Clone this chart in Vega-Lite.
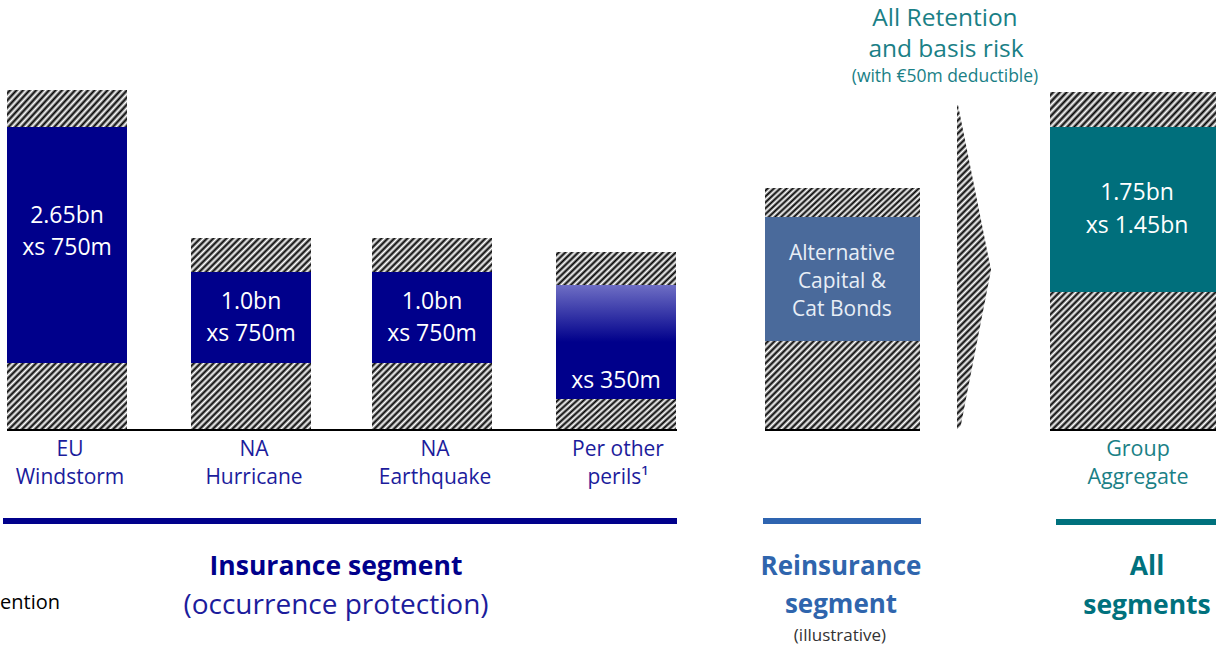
{
"$schema":"https://vega.github.io/schema/vega-lite/v6.json",
"width":1216,"height":646,"padding":0,
"autosize":"none",
"background":"#ffffff",
"config":{"view":{"stroke":null},"text":{"font":"Open Sans"}},
"datasets":{
"hatch":[
{"x0":7,"x1":127,"lo":303,"hi":340,"g":"g1"},
{"x0":191,"x1":311,"lo":158,"hi":192,"g":"g1"},
{"x0":372,"x1":492,"lo":158,"hi":192,"g":"g1"},
{"x0":556,"x1":676,"lo":145,"hi":178,"g":"g1"},
{"x0":556,"x1":676,"lo":0,"hi":31,"g":"g1"},
{"x0":7,"x1":127,"lo":0,"hi":67,"g":"g2"},
{"x0":191,"x1":311,"lo":0,"hi":67,"g":"g2"},
{"x0":372,"x1":492,"lo":0,"hi":67,"g":"g2"},
{"x0":765,"x1":920,"lo":213,"hi":242,"g":"g3"},
{"x0":1050,"x1":1216,"lo":303,"hi":338,"g":"g3"},
{"x0":765,"x1":920,"lo":0,"hi":89,"g":"g4"},
{"x0":1050,"x1":1216,"lo":0,"hi":138,"g":"g5"}
],
"blocks":[
{"name":"EU Windstorm","seg":"ins","x0":7,"x1":127,"lo":67,"hi":303},
{"name":"NA Hurricane","seg":"ins","x0":191,"x1":311,"lo":67,"hi":158},
{"name":"NA Earthquake","seg":"ins","x0":372,"x1":492,"lo":67,"hi":158},
{"name":"Per other perils","seg":"other","x0":556,"x1":676,"lo":31,"hi":145},
{"name":"Alternative Capital & Cat Bonds","seg":"reins","x0":765,"x1":920,"lo":89,"hi":213},
{"name":"Group Aggregate","seg":"group","x0":1050,"x1":1216,"lo":138,"hi":303}
],
"arrow":[{"v":325,"a":957,"b":958},{"v":160,"a":957,"b":991},{"v":-10,"a":957,"b":958}],
"lines":[
{"kind":"base","x0":7,"x1":677,"v":0},
{"kind":"base","x0":765,"x1":920,"v":0},
{"kind":"base","x0":1050,"x1":1216,"v":0},
{"kind":"Insurance line","x0":3,"x1":677,"v":-91},
{"kind":"Reinsurance line","x0":763,"x1":921,"v":-91},
{"kind":"All segments line","x0":1056,"x1":1216,"v":-92}
],
"texts":[
{"role":"barlab","x":67,"v":214,"t":"2.65bn"},
{"role":"barlab","x":67,"v":182,"t":"xs 750m"},
{"role":"barlab","x":251,"v":128,"t":"1.0bn"},
{"role":"barlab","x":251,"v":96,"t":"xs 750m"},
{"role":"barlab","x":432,"v":128,"t":"1.0bn"},
{"role":"barlab","x":432,"v":96,"t":"xs 750m"},
{"role":"barlab","x":616,"v":49,"t":"xs 350m"},
{"role":"barlab","x":1137,"v":237,"t":"1.75bn"},
{"role":"barlab","x":1137,"v":204,"t":"xs 1.45bn"},
{"role":"reinslab","x":842,"v":176,"t":"Alternative"},
{"role":"reinslab","x":842,"v":148,"t":"Capital &"},
{"role":"reinslab","x":842,"v":120,"t":"Cat Bonds"},
{"role":"cat","x":70,"v":-20,"t":"EU"},
{"role":"cat","x":70,"v":-48,"t":"Windstorm"},
{"role":"cat","x":254,"v":-20,"t":"NA"},
{"role":"cat","x":254,"v":-48,"t":"Hurricane"},
{"role":"cat","x":435,"v":-20,"t":"NA"},
{"role":"cat","x":435,"v":-48,"t":"Earthquake"},
{"role":"cat","x":618,"v":-20,"t":"Per other"},
{"role":"cat","x":618,"v":-48,"t":"perils¹"},
{"role":"catg","x":1138,"v":-20,"t":"Group"},
{"role":"catg","x":1138,"v":-48,"t":"Aggregate"},
{"role":"segIns","x":336,"v":-137,"t":"Insurance segment"},
{"role":"segInsSub","x":336,"v":-176,"t":"(occurrence protection)"},
{"role":"segRe","x":841,"v":-137,"t":"Reinsurance"},
{"role":"segRe","x":841,"v":-175,"t":"segment"},
{"role":"illus","x":840,"v":-206,"t":"(illustrative)"},
{"role":"segAll","x":1147,"v":-137,"t":"All"},
{"role":"segAll","x":1147,"v":-176,"t":"segments"},
{"role":"leg","x":0,"v":-173,"t":"ention"},
{"role":"top","x":945,"v":411,"t":"All Retention"},
{"role":"top","x":946,"v":380,"t":"and basis risk"},
{"role":"topsub","x":945,"v":353,"t":"(with  €50m deductible)"}
]
},
"layer":[
{"data":{"name":"hatch"},"transform":[{"filter":"datum.g == 'g1'"}],
"mark":{"type":"rect","fill":{"gradient":"linear","x1":0,"y1":0,"x2":2.507,"y2":0.710,"stops":[{"offset":0,"color":"#fff"},{"offset":0.01,"color":"#000"},{"offset":0.02,"color":"#fff"},{"offset":0.03,"color":"#000"},{"offset":0.04,"color":"#fff"},{"offset":0.05,"color":"#000"},{"offset":0.06,"color":"#fff"},{"offset":0.07,"color":"#000"},{"offset":0.08,"color":"#fff"},{"offset":0.09,"color":"#000"},{"offset":0.1,"color":"#fff"},{"offset":0.11,"color":"#000"},{"offset":0.12,"color":"#fff"},{"offset":0.13,"color":"#000"},{"offset":0.14,"color":"#fff"},{"offset":0.15,"color":"#000"},{"offset":0.16,"color":"#fff"},{"offset":0.17,"color":"#000"},{"offset":0.18,"color":"#fff"},{"offset":0.19,"color":"#000"},{"offset":0.2,"color":"#fff"},{"offset":0.21,"color":"#000"},{"offset":0.22,"color":"#fff"},{"offset":0.23,"color":"#000"},{"offset":0.24,"color":"#fff"},{"offset":0.25,"color":"#000"},{"offset":0.26,"color":"#fff"},{"offset":0.27,"color":"#000"},{"offset":0.28,"color":"#fff"},{"offset":0.29,"color":"#000"},{"offset":0.3,"color":"#fff"},{"offset":0.31,"color":"#000"},{"offset":0.32,"color":"#fff"},{"offset":0.33,"color":"#000"},{"offset":0.34,"color":"#fff"},{"offset":0.35,"color":"#000"},{"offset":0.36,"color":"#fff"},{"offset":0.37,"color":"#000"},{"offset":0.38,"color":"#fff"},{"offset":0.39,"color":"#000"},{"offset":0.4,"color":"#fff"},{"offset":0.41,"color":"#000"},{"offset":0.42,"color":"#fff"},{"offset":0.43,"color":"#000"},{"offset":0.44,"color":"#fff"},{"offset":0.45,"color":"#000"},{"offset":0.46,"color":"#fff"},{"offset":0.47,"color":"#000"},{"offset":0.48,"color":"#fff"},{"offset":0.49,"color":"#000"},{"offset":0.5,"color":"#fff"},{"offset":0.51,"color":"#000"},{"offset":0.52,"color":"#fff"},{"offset":0.53,"color":"#000"},{"offset":0.54,"color":"#fff"},{"offset":0.55,"color":"#000"},{"offset":0.56,"color":"#fff"},{"offset":0.57,"color":"#000"},{"offset":0.58,"color":"#fff"},{"offset":0.59,"color":"#000"},{"offset":0.6,"color":"#fff"},{"offset":0.61,"color":"#000"},{"offset":0.62,"color":"#fff"},{"offset":0.63,"color":"#000"},{"offset":0.64,"color":"#fff"},{"offset":0.65,"color":"#000"},{"offset":0.66,"color":"#fff"},{"offset":0.67,"color":"#000"},{"offset":0.68,"color":"#fff"},{"offset":0.69,"color":"#000"},{"offset":0.7,"color":"#fff"},{"offset":0.71,"color":"#000"},{"offset":0.72,"color":"#fff"},{"offset":0.73,"color":"#000"},{"offset":0.74,"color":"#fff"},{"offset":0.75,"color":"#000"},{"offset":0.76,"color":"#fff"},{"offset":0.77,"color":"#000"},{"offset":0.78,"color":"#fff"},{"offset":0.79,"color":"#000"},{"offset":0.8,"color":"#fff"},{"offset":0.81,"color":"#000"},{"offset":0.82,"color":"#fff"},{"offset":0.83,"color":"#000"},{"offset":0.84,"color":"#fff"},{"offset":0.85,"color":"#000"},{"offset":0.86,"color":"#fff"},{"offset":0.87,"color":"#000"},{"offset":0.88,"color":"#fff"},{"offset":0.89,"color":"#000"},{"offset":0.9,"color":"#fff"},{"offset":0.91,"color":"#000"},{"offset":0.92,"color":"#fff"},{"offset":0.93,"color":"#000"},{"offset":0.94,"color":"#fff"},{"offset":0.95,"color":"#000"},{"offset":0.96,"color":"#fff"},{"offset":0.97,"color":"#000"},{"offset":0.98,"color":"#fff"},{"offset":0.99,"color":"#000"},{"offset":1,"color":"#fff"}]}},
"encoding":{"x":{"field":"x0","type":"quantitative","scale":{"domain":[0,1216],"nice":false,"zero":false},"axis":null},"x2":{"field":"x1"},"y":{"field":"lo","type":"quantitative","scale":{"domain":[-216,430],"nice":false,"zero":false},"axis":null},"y2":{"field":"hi"}}},
{"data":{"name":"hatch"},"transform":[{"filter":"datum.g == 'g2'"}],
"mark":{"type":"rect","fill":{"gradient":"linear","x1":0,"y1":0,"x2":2.065,"y2":1.153,"stops":[{"offset":0,"color":"#fff"},{"offset":0.01,"color":"#000"},{"offset":0.02,"color":"#fff"},{"offset":0.03,"color":"#000"},{"offset":0.04,"color":"#fff"},{"offset":0.05,"color":"#000"},{"offset":0.06,"color":"#fff"},{"offset":0.07,"color":"#000"},{"offset":0.08,"color":"#fff"},{"offset":0.09,"color":"#000"},{"offset":0.1,"color":"#fff"},{"offset":0.11,"color":"#000"},{"offset":0.12,"color":"#fff"},{"offset":0.13,"color":"#000"},{"offset":0.14,"color":"#fff"},{"offset":0.15,"color":"#000"},{"offset":0.16,"color":"#fff"},{"offset":0.17,"color":"#000"},{"offset":0.18,"color":"#fff"},{"offset":0.19,"color":"#000"},{"offset":0.2,"color":"#fff"},{"offset":0.21,"color":"#000"},{"offset":0.22,"color":"#fff"},{"offset":0.23,"color":"#000"},{"offset":0.24,"color":"#fff"},{"offset":0.25,"color":"#000"},{"offset":0.26,"color":"#fff"},{"offset":0.27,"color":"#000"},{"offset":0.28,"color":"#fff"},{"offset":0.29,"color":"#000"},{"offset":0.3,"color":"#fff"},{"offset":0.31,"color":"#000"},{"offset":0.32,"color":"#fff"},{"offset":0.33,"color":"#000"},{"offset":0.34,"color":"#fff"},{"offset":0.35,"color":"#000"},{"offset":0.36,"color":"#fff"},{"offset":0.37,"color":"#000"},{"offset":0.38,"color":"#fff"},{"offset":0.39,"color":"#000"},{"offset":0.4,"color":"#fff"},{"offset":0.41,"color":"#000"},{"offset":0.42,"color":"#fff"},{"offset":0.43,"color":"#000"},{"offset":0.44,"color":"#fff"},{"offset":0.45,"color":"#000"},{"offset":0.46,"color":"#fff"},{"offset":0.47,"color":"#000"},{"offset":0.48,"color":"#fff"},{"offset":0.49,"color":"#000"},{"offset":0.5,"color":"#fff"},{"offset":0.51,"color":"#000"},{"offset":0.52,"color":"#fff"},{"offset":0.53,"color":"#000"},{"offset":0.54,"color":"#fff"},{"offset":0.55,"color":"#000"},{"offset":0.56,"color":"#fff"},{"offset":0.57,"color":"#000"},{"offset":0.58,"color":"#fff"},{"offset":0.59,"color":"#000"},{"offset":0.6,"color":"#fff"},{"offset":0.61,"color":"#000"},{"offset":0.62,"color":"#fff"},{"offset":0.63,"color":"#000"},{"offset":0.64,"color":"#fff"},{"offset":0.65,"color":"#000"},{"offset":0.66,"color":"#fff"},{"offset":0.67,"color":"#000"},{"offset":0.68,"color":"#fff"},{"offset":0.69,"color":"#000"},{"offset":0.7,"color":"#fff"},{"offset":0.71,"color":"#000"},{"offset":0.72,"color":"#fff"},{"offset":0.73,"color":"#000"},{"offset":0.74,"color":"#fff"},{"offset":0.75,"color":"#000"},{"offset":0.76,"color":"#fff"},{"offset":0.77,"color":"#000"},{"offset":0.78,"color":"#fff"},{"offset":0.79,"color":"#000"},{"offset":0.8,"color":"#fff"},{"offset":0.81,"color":"#000"},{"offset":0.82,"color":"#fff"},{"offset":0.83,"color":"#000"},{"offset":0.84,"color":"#fff"},{"offset":0.85,"color":"#000"},{"offset":0.86,"color":"#fff"},{"offset":0.87,"color":"#000"},{"offset":0.88,"color":"#fff"},{"offset":0.89,"color":"#000"},{"offset":0.9,"color":"#fff"},{"offset":0.91,"color":"#000"},{"offset":0.92,"color":"#fff"},{"offset":0.93,"color":"#000"},{"offset":0.94,"color":"#fff"},{"offset":0.95,"color":"#000"},{"offset":0.96,"color":"#fff"},{"offset":0.97,"color":"#000"},{"offset":0.98,"color":"#fff"},{"offset":0.99,"color":"#000"},{"offset":1,"color":"#fff"}]}},
"encoding":{"x":{"field":"x0","type":"quantitative","scale":{"domain":[0,1216],"nice":false,"zero":false},"axis":null},"x2":{"field":"x1"},"y":{"field":"lo","type":"quantitative","scale":{"domain":[-216,430],"nice":false,"zero":false},"axis":null},"y2":{"field":"hi"}}},
{"data":{"name":"hatch"},"transform":[{"filter":"datum.g == 'g3'"}],
"mark":{"type":"rect","fill":{"gradient":"linear","x1":0,"y1":0,"x2":1.953,"y2":0.391,"stops":[{"offset":0,"color":"#fff"},{"offset":0.01,"color":"#000"},{"offset":0.02,"color":"#fff"},{"offset":0.03,"color":"#000"},{"offset":0.04,"color":"#fff"},{"offset":0.05,"color":"#000"},{"offset":0.06,"color":"#fff"},{"offset":0.07,"color":"#000"},{"offset":0.08,"color":"#fff"},{"offset":0.09,"color":"#000"},{"offset":0.1,"color":"#fff"},{"offset":0.11,"color":"#000"},{"offset":0.12,"color":"#fff"},{"offset":0.13,"color":"#000"},{"offset":0.14,"color":"#fff"},{"offset":0.15,"color":"#000"},{"offset":0.16,"color":"#fff"},{"offset":0.17,"color":"#000"},{"offset":0.18,"color":"#fff"},{"offset":0.19,"color":"#000"},{"offset":0.2,"color":"#fff"},{"offset":0.21,"color":"#000"},{"offset":0.22,"color":"#fff"},{"offset":0.23,"color":"#000"},{"offset":0.24,"color":"#fff"},{"offset":0.25,"color":"#000"},{"offset":0.26,"color":"#fff"},{"offset":0.27,"color":"#000"},{"offset":0.28,"color":"#fff"},{"offset":0.29,"color":"#000"},{"offset":0.3,"color":"#fff"},{"offset":0.31,"color":"#000"},{"offset":0.32,"color":"#fff"},{"offset":0.33,"color":"#000"},{"offset":0.34,"color":"#fff"},{"offset":0.35,"color":"#000"},{"offset":0.36,"color":"#fff"},{"offset":0.37,"color":"#000"},{"offset":0.38,"color":"#fff"},{"offset":0.39,"color":"#000"},{"offset":0.4,"color":"#fff"},{"offset":0.41,"color":"#000"},{"offset":0.42,"color":"#fff"},{"offset":0.43,"color":"#000"},{"offset":0.44,"color":"#fff"},{"offset":0.45,"color":"#000"},{"offset":0.46,"color":"#fff"},{"offset":0.47,"color":"#000"},{"offset":0.48,"color":"#fff"},{"offset":0.49,"color":"#000"},{"offset":0.5,"color":"#fff"},{"offset":0.51,"color":"#000"},{"offset":0.52,"color":"#fff"},{"offset":0.53,"color":"#000"},{"offset":0.54,"color":"#fff"},{"offset":0.55,"color":"#000"},{"offset":0.56,"color":"#fff"},{"offset":0.57,"color":"#000"},{"offset":0.58,"color":"#fff"},{"offset":0.59,"color":"#000"},{"offset":0.6,"color":"#fff"},{"offset":0.61,"color":"#000"},{"offset":0.62,"color":"#fff"},{"offset":0.63,"color":"#000"},{"offset":0.64,"color":"#fff"},{"offset":0.65,"color":"#000"},{"offset":0.66,"color":"#fff"},{"offset":0.67,"color":"#000"},{"offset":0.68,"color":"#fff"},{"offset":0.69,"color":"#000"},{"offset":0.7,"color":"#fff"},{"offset":0.71,"color":"#000"},{"offset":0.72,"color":"#fff"},{"offset":0.73,"color":"#000"},{"offset":0.74,"color":"#fff"},{"offset":0.75,"color":"#000"},{"offset":0.76,"color":"#fff"},{"offset":0.77,"color":"#000"},{"offset":0.78,"color":"#fff"},{"offset":0.79,"color":"#000"},{"offset":0.8,"color":"#fff"},{"offset":0.81,"color":"#000"},{"offset":0.82,"color":"#fff"},{"offset":0.83,"color":"#000"},{"offset":0.84,"color":"#fff"},{"offset":0.85,"color":"#000"},{"offset":0.86,"color":"#fff"},{"offset":0.87,"color":"#000"},{"offset":0.88,"color":"#fff"},{"offset":0.89,"color":"#000"},{"offset":0.9,"color":"#fff"},{"offset":0.91,"color":"#000"},{"offset":0.92,"color":"#fff"},{"offset":0.93,"color":"#000"},{"offset":0.94,"color":"#fff"},{"offset":0.95,"color":"#000"},{"offset":0.96,"color":"#fff"},{"offset":0.97,"color":"#000"},{"offset":0.98,"color":"#fff"},{"offset":0.99,"color":"#000"},{"offset":1,"color":"#fff"}]}},
"encoding":{"x":{"field":"x0","type":"quantitative","scale":{"domain":[0,1216],"nice":false,"zero":false},"axis":null},"x2":{"field":"x1"},"y":{"field":"lo","type":"quantitative","scale":{"domain":[-216,430],"nice":false,"zero":false},"axis":null},"y2":{"field":"hi"}}},
{"data":{"name":"hatch"},"transform":[{"filter":"datum.g == 'g4'"}],
"mark":{"type":"rect","fill":{"gradient":"linear","x1":0,"y1":0,"x2":1.577,"y2":0.905,"stops":[{"offset":0,"color":"#fff"},{"offset":0.01,"color":"#000"},{"offset":0.02,"color":"#fff"},{"offset":0.03,"color":"#000"},{"offset":0.04,"color":"#fff"},{"offset":0.05,"color":"#000"},{"offset":0.06,"color":"#fff"},{"offset":0.07,"color":"#000"},{"offset":0.08,"color":"#fff"},{"offset":0.09,"color":"#000"},{"offset":0.1,"color":"#fff"},{"offset":0.11,"color":"#000"},{"offset":0.12,"color":"#fff"},{"offset":0.13,"color":"#000"},{"offset":0.14,"color":"#fff"},{"offset":0.15,"color":"#000"},{"offset":0.16,"color":"#fff"},{"offset":0.17,"color":"#000"},{"offset":0.18,"color":"#fff"},{"offset":0.19,"color":"#000"},{"offset":0.2,"color":"#fff"},{"offset":0.21,"color":"#000"},{"offset":0.22,"color":"#fff"},{"offset":0.23,"color":"#000"},{"offset":0.24,"color":"#fff"},{"offset":0.25,"color":"#000"},{"offset":0.26,"color":"#fff"},{"offset":0.27,"color":"#000"},{"offset":0.28,"color":"#fff"},{"offset":0.29,"color":"#000"},{"offset":0.3,"color":"#fff"},{"offset":0.31,"color":"#000"},{"offset":0.32,"color":"#fff"},{"offset":0.33,"color":"#000"},{"offset":0.34,"color":"#fff"},{"offset":0.35,"color":"#000"},{"offset":0.36,"color":"#fff"},{"offset":0.37,"color":"#000"},{"offset":0.38,"color":"#fff"},{"offset":0.39,"color":"#000"},{"offset":0.4,"color":"#fff"},{"offset":0.41,"color":"#000"},{"offset":0.42,"color":"#fff"},{"offset":0.43,"color":"#000"},{"offset":0.44,"color":"#fff"},{"offset":0.45,"color":"#000"},{"offset":0.46,"color":"#fff"},{"offset":0.47,"color":"#000"},{"offset":0.48,"color":"#fff"},{"offset":0.49,"color":"#000"},{"offset":0.5,"color":"#fff"},{"offset":0.51,"color":"#000"},{"offset":0.52,"color":"#fff"},{"offset":0.53,"color":"#000"},{"offset":0.54,"color":"#fff"},{"offset":0.55,"color":"#000"},{"offset":0.56,"color":"#fff"},{"offset":0.57,"color":"#000"},{"offset":0.58,"color":"#fff"},{"offset":0.59,"color":"#000"},{"offset":0.6,"color":"#fff"},{"offset":0.61,"color":"#000"},{"offset":0.62,"color":"#fff"},{"offset":0.63,"color":"#000"},{"offset":0.64,"color":"#fff"},{"offset":0.65,"color":"#000"},{"offset":0.66,"color":"#fff"},{"offset":0.67,"color":"#000"},{"offset":0.68,"color":"#fff"},{"offset":0.69,"color":"#000"},{"offset":0.7,"color":"#fff"},{"offset":0.71,"color":"#000"},{"offset":0.72,"color":"#fff"},{"offset":0.73,"color":"#000"},{"offset":0.74,"color":"#fff"},{"offset":0.75,"color":"#000"},{"offset":0.76,"color":"#fff"},{"offset":0.77,"color":"#000"},{"offset":0.78,"color":"#fff"},{"offset":0.79,"color":"#000"},{"offset":0.8,"color":"#fff"},{"offset":0.81,"color":"#000"},{"offset":0.82,"color":"#fff"},{"offset":0.83,"color":"#000"},{"offset":0.84,"color":"#fff"},{"offset":0.85,"color":"#000"},{"offset":0.86,"color":"#fff"},{"offset":0.87,"color":"#000"},{"offset":0.88,"color":"#fff"},{"offset":0.89,"color":"#000"},{"offset":0.9,"color":"#fff"},{"offset":0.91,"color":"#000"},{"offset":0.92,"color":"#fff"},{"offset":0.93,"color":"#000"},{"offset":0.94,"color":"#fff"},{"offset":0.95,"color":"#000"},{"offset":0.96,"color":"#fff"},{"offset":0.97,"color":"#000"},{"offset":0.98,"color":"#fff"},{"offset":0.99,"color":"#000"},{"offset":1,"color":"#fff"}]}},
"encoding":{"x":{"field":"x0","type":"quantitative","scale":{"domain":[0,1216],"nice":false,"zero":false},"axis":null},"x2":{"field":"x1"},"y":{"field":"lo","type":"quantitative","scale":{"domain":[-216,430],"nice":false,"zero":false},"axis":null},"y2":{"field":"hi"}}},
{"data":{"name":"hatch"},"transform":[{"filter":"datum.g == 'g5'"}],
"mark":{"type":"rect","fill":{"gradient":"linear","x1":0,"y1":0,"x2":1.158,"y2":0.962,"stops":[{"offset":0,"color":"#fff"},{"offset":0.01,"color":"#000"},{"offset":0.02,"color":"#fff"},{"offset":0.03,"color":"#000"},{"offset":0.04,"color":"#fff"},{"offset":0.05,"color":"#000"},{"offset":0.06,"color":"#fff"},{"offset":0.07,"color":"#000"},{"offset":0.08,"color":"#fff"},{"offset":0.09,"color":"#000"},{"offset":0.1,"color":"#fff"},{"offset":0.11,"color":"#000"},{"offset":0.12,"color":"#fff"},{"offset":0.13,"color":"#000"},{"offset":0.14,"color":"#fff"},{"offset":0.15,"color":"#000"},{"offset":0.16,"color":"#fff"},{"offset":0.17,"color":"#000"},{"offset":0.18,"color":"#fff"},{"offset":0.19,"color":"#000"},{"offset":0.2,"color":"#fff"},{"offset":0.21,"color":"#000"},{"offset":0.22,"color":"#fff"},{"offset":0.23,"color":"#000"},{"offset":0.24,"color":"#fff"},{"offset":0.25,"color":"#000"},{"offset":0.26,"color":"#fff"},{"offset":0.27,"color":"#000"},{"offset":0.28,"color":"#fff"},{"offset":0.29,"color":"#000"},{"offset":0.3,"color":"#fff"},{"offset":0.31,"color":"#000"},{"offset":0.32,"color":"#fff"},{"offset":0.33,"color":"#000"},{"offset":0.34,"color":"#fff"},{"offset":0.35,"color":"#000"},{"offset":0.36,"color":"#fff"},{"offset":0.37,"color":"#000"},{"offset":0.38,"color":"#fff"},{"offset":0.39,"color":"#000"},{"offset":0.4,"color":"#fff"},{"offset":0.41,"color":"#000"},{"offset":0.42,"color":"#fff"},{"offset":0.43,"color":"#000"},{"offset":0.44,"color":"#fff"},{"offset":0.45,"color":"#000"},{"offset":0.46,"color":"#fff"},{"offset":0.47,"color":"#000"},{"offset":0.48,"color":"#fff"},{"offset":0.49,"color":"#000"},{"offset":0.5,"color":"#fff"},{"offset":0.51,"color":"#000"},{"offset":0.52,"color":"#fff"},{"offset":0.53,"color":"#000"},{"offset":0.54,"color":"#fff"},{"offset":0.55,"color":"#000"},{"offset":0.56,"color":"#fff"},{"offset":0.57,"color":"#000"},{"offset":0.58,"color":"#fff"},{"offset":0.59,"color":"#000"},{"offset":0.6,"color":"#fff"},{"offset":0.61,"color":"#000"},{"offset":0.62,"color":"#fff"},{"offset":0.63,"color":"#000"},{"offset":0.64,"color":"#fff"},{"offset":0.65,"color":"#000"},{"offset":0.66,"color":"#fff"},{"offset":0.67,"color":"#000"},{"offset":0.68,"color":"#fff"},{"offset":0.69,"color":"#000"},{"offset":0.7,"color":"#fff"},{"offset":0.71,"color":"#000"},{"offset":0.72,"color":"#fff"},{"offset":0.73,"color":"#000"},{"offset":0.74,"color":"#fff"},{"offset":0.75,"color":"#000"},{"offset":0.76,"color":"#fff"},{"offset":0.77,"color":"#000"},{"offset":0.78,"color":"#fff"},{"offset":0.79,"color":"#000"},{"offset":0.8,"color":"#fff"},{"offset":0.81,"color":"#000"},{"offset":0.82,"color":"#fff"},{"offset":0.83,"color":"#000"},{"offset":0.84,"color":"#fff"},{"offset":0.85,"color":"#000"},{"offset":0.86,"color":"#fff"},{"offset":0.87,"color":"#000"},{"offset":0.88,"color":"#fff"},{"offset":0.89,"color":"#000"},{"offset":0.9,"color":"#fff"},{"offset":0.91,"color":"#000"},{"offset":0.92,"color":"#fff"},{"offset":0.93,"color":"#000"},{"offset":0.94,"color":"#fff"},{"offset":0.95,"color":"#000"},{"offset":0.96,"color":"#fff"},{"offset":0.97,"color":"#000"},{"offset":0.98,"color":"#fff"},{"offset":0.99,"color":"#000"},{"offset":1,"color":"#fff"}]}},
"encoding":{"x":{"field":"x0","type":"quantitative","scale":{"domain":[0,1216],"nice":false,"zero":false},"axis":null},"x2":{"field":"x1"},"y":{"field":"lo","type":"quantitative","scale":{"domain":[-216,430],"nice":false,"zero":false},"axis":null},"y2":{"field":"hi"}}},
{"data":{"name":"arrow"},
"mark":{"type":"area","orient":"horizontal","fill":{"gradient":"linear","x1":0,"y1":0,"x2":0.0975,"y2":0.960,"stops":[{"offset":0,"color":"#fff"},{"offset":0.01,"color":"#000"},{"offset":0.02,"color":"#fff"},{"offset":0.03,"color":"#000"},{"offset":0.04,"color":"#fff"},{"offset":0.05,"color":"#000"},{"offset":0.06,"color":"#fff"},{"offset":0.07,"color":"#000"},{"offset":0.08,"color":"#fff"},{"offset":0.09,"color":"#000"},{"offset":0.1,"color":"#fff"},{"offset":0.11,"color":"#000"},{"offset":0.12,"color":"#fff"},{"offset":0.13,"color":"#000"},{"offset":0.14,"color":"#fff"},{"offset":0.15,"color":"#000"},{"offset":0.16,"color":"#fff"},{"offset":0.17,"color":"#000"},{"offset":0.18,"color":"#fff"},{"offset":0.19,"color":"#000"},{"offset":0.2,"color":"#fff"},{"offset":0.21,"color":"#000"},{"offset":0.22,"color":"#fff"},{"offset":0.23,"color":"#000"},{"offset":0.24,"color":"#fff"},{"offset":0.25,"color":"#000"},{"offset":0.26,"color":"#fff"},{"offset":0.27,"color":"#000"},{"offset":0.28,"color":"#fff"},{"offset":0.29,"color":"#000"},{"offset":0.3,"color":"#fff"},{"offset":0.31,"color":"#000"},{"offset":0.32,"color":"#fff"},{"offset":0.33,"color":"#000"},{"offset":0.34,"color":"#fff"},{"offset":0.35,"color":"#000"},{"offset":0.36,"color":"#fff"},{"offset":0.37,"color":"#000"},{"offset":0.38,"color":"#fff"},{"offset":0.39,"color":"#000"},{"offset":0.4,"color":"#fff"},{"offset":0.41,"color":"#000"},{"offset":0.42,"color":"#fff"},{"offset":0.43,"color":"#000"},{"offset":0.44,"color":"#fff"},{"offset":0.45,"color":"#000"},{"offset":0.46,"color":"#fff"},{"offset":0.47,"color":"#000"},{"offset":0.48,"color":"#fff"},{"offset":0.49,"color":"#000"},{"offset":0.5,"color":"#fff"},{"offset":0.51,"color":"#000"},{"offset":0.52,"color":"#fff"},{"offset":0.53,"color":"#000"},{"offset":0.54,"color":"#fff"},{"offset":0.55,"color":"#000"},{"offset":0.56,"color":"#fff"},{"offset":0.57,"color":"#000"},{"offset":0.58,"color":"#fff"},{"offset":0.59,"color":"#000"},{"offset":0.6,"color":"#fff"},{"offset":0.61,"color":"#000"},{"offset":0.62,"color":"#fff"},{"offset":0.63,"color":"#000"},{"offset":0.64,"color":"#fff"},{"offset":0.65,"color":"#000"},{"offset":0.66,"color":"#fff"},{"offset":0.67,"color":"#000"},{"offset":0.68,"color":"#fff"},{"offset":0.69,"color":"#000"},{"offset":0.7,"color":"#fff"},{"offset":0.71,"color":"#000"},{"offset":0.72,"color":"#fff"},{"offset":0.73,"color":"#000"},{"offset":0.74,"color":"#fff"},{"offset":0.75,"color":"#000"},{"offset":0.76,"color":"#fff"},{"offset":0.77,"color":"#000"},{"offset":0.78,"color":"#fff"},{"offset":0.79,"color":"#000"},{"offset":0.8,"color":"#fff"},{"offset":0.81,"color":"#000"},{"offset":0.82,"color":"#fff"},{"offset":0.83,"color":"#000"},{"offset":0.84,"color":"#fff"},{"offset":0.85,"color":"#000"},{"offset":0.86,"color":"#fff"},{"offset":0.87,"color":"#000"},{"offset":0.88,"color":"#fff"},{"offset":0.89,"color":"#000"},{"offset":0.9,"color":"#fff"},{"offset":0.91,"color":"#000"},{"offset":0.92,"color":"#fff"},{"offset":0.93,"color":"#000"},{"offset":0.94,"color":"#fff"},{"offset":0.95,"color":"#000"},{"offset":0.96,"color":"#fff"},{"offset":0.97,"color":"#000"},{"offset":0.98,"color":"#fff"},{"offset":0.99,"color":"#000"},{"offset":1,"color":"#fff"}]}},
"encoding":{"y":{"field":"v","type":"quantitative","scale":{"domain":[-216,430],"nice":false,"zero":false},"axis":null},"x":{"field":"a","type":"quantitative","scale":{"domain":[0,1216],"nice":false,"zero":false},"axis":null},"x2":{"field":"b"}}},
{"data":{"name":"blocks"},"transform":[{"filter":"datum.seg != 'other'"}],
"mark":{"type":"rect"},
"encoding":{"x":{"field":"x0","type":"quantitative","scale":{"domain":[0,1216],"nice":false,"zero":false},"axis":null},"x2":{"field":"x1"},"y":{"field":"lo","type":"quantitative","scale":{"domain":[-216,430],"nice":false,"zero":false},"axis":null},"y2":{"field":"hi"},
"color":{"field":"seg","type":"nominal","scale":{"domain":["ins","reins","group","Insurance line","Reinsurance line","All segments line"],"range":["#00008b","#4a6a9b","#006f7c","#00008b","#2e64b0","#00717d"]},"legend":null}}},
{"data":{"name":"blocks"},"transform":[{"filter":"datum.seg == 'other'"}],
"mark":{"type":"rect","fill":{"gradient":"linear","x1":0,"y1":0,"x2":0,"y2":1,"stops":[{"offset":0,"color":"#6e6ec4"},{"offset":0.5,"color":"#00008b"},{"offset":1,"color":"#00008b"}]}},
"encoding":{"x":{"field":"x0","type":"quantitative","scale":{"domain":[0,1216],"nice":false,"zero":false},"axis":null},"x2":{"field":"x1"},"y":{"field":"lo","type":"quantitative","scale":{"domain":[-216,430],"nice":false,"zero":false},"axis":null},"y2":{"field":"hi"}}},
{"data":{"name":"lines"},"transform":[{"filter":"datum.kind == 'base'"}],
"mark":{"type":"rule","color":"#000000","strokeWidth":2},
"encoding":{"x":{"field":"x0","type":"quantitative","scale":{"domain":[0,1216],"nice":false,"zero":false},"axis":null},"x2":{"field":"x1"},"y":{"field":"v","type":"quantitative","scale":{"domain":[-216,430],"nice":false,"zero":false},"axis":null}}},
{"data":{"name":"lines"},"transform":[{"filter":"datum.kind != 'base'"}],
"mark":{"type":"rule","strokeWidth":6},
"encoding":{"x":{"field":"x0","type":"quantitative","scale":{"domain":[0,1216],"nice":false,"zero":false},"axis":null},"x2":{"field":"x1"},"y":{"field":"v","type":"quantitative","scale":{"domain":[-216,430],"nice":false,"zero":false},"axis":null},
"color":{"field":"kind","type":"nominal","scale":{"domain":["ins","reins","group","Insurance line","Reinsurance line","All segments line"],"range":["#00008b","#4a6a9b","#006f7c","#00008b","#2e64b0","#00717d"]},"legend":null}}},
{"data":{"name":"texts"},"transform":[{"filter":"datum.role == 'barlab'"}],
"mark":{"type":"text","fontSize":23,"color":"#ffffff","align":"center","baseline":"middle"},
"encoding":{"x":{"field":"x","type":"quantitative","scale":{"domain":[0,1216],"nice":false,"zero":false},"axis":null},"y":{"field":"v","type":"quantitative","scale":{"domain":[-216,430],"nice":false,"zero":false},"axis":null},"text":{"field":"t"}}},
{"data":{"name":"texts"},"transform":[{"filter":"datum.role == 'reinslab'"}],
"mark":{"type":"text","fontSize":21,"color":"#e8eef6","align":"center","baseline":"middle"},
"encoding":{"x":{"field":"x","type":"quantitative","scale":{"domain":[0,1216],"nice":false,"zero":false},"axis":null},"y":{"field":"v","type":"quantitative","scale":{"domain":[-216,430],"nice":false,"zero":false},"axis":null},"text":{"field":"t"}}},
{"data":{"name":"texts"},"transform":[{"filter":"datum.role == 'cat'"}],
"mark":{"type":"text","fontSize":21,"color":"#1c1c9c","align":"center","baseline":"middle"},
"encoding":{"x":{"field":"x","type":"quantitative","scale":{"domain":[0,1216],"nice":false,"zero":false},"axis":null},"y":{"field":"v","type":"quantitative","scale":{"domain":[-216,430],"nice":false,"zero":false},"axis":null},"text":{"field":"t"}}},
{"data":{"name":"texts"},"transform":[{"filter":"datum.role == 'catg'"}],
"mark":{"type":"text","fontSize":21.5,"color":"#1a7f86","align":"center","baseline":"middle"},
"encoding":{"x":{"field":"x","type":"quantitative","scale":{"domain":[0,1216],"nice":false,"zero":false},"axis":null},"y":{"field":"v","type":"quantitative","scale":{"domain":[-216,430],"nice":false,"zero":false},"axis":null},"text":{"field":"t"}}},
{"data":{"name":"texts"},"transform":[{"filter":"datum.role == 'segIns'"}],
"mark":{"type":"text","fontSize":26.5,"fontWeight":"bold","color":"#00008b","align":"center","baseline":"middle"},
"encoding":{"x":{"field":"x","type":"quantitative","scale":{"domain":[0,1216],"nice":false,"zero":false},"axis":null},"y":{"field":"v","type":"quantitative","scale":{"domain":[-216,430],"nice":false,"zero":false},"axis":null},"text":{"field":"t"}}},
{"data":{"name":"texts"},"transform":[{"filter":"datum.role == 'segInsSub'"}],
"mark":{"type":"text","fontSize":28,"color":"#1c1c9c","align":"center","baseline":"middle"},
"encoding":{"x":{"field":"x","type":"quantitative","scale":{"domain":[0,1216],"nice":false,"zero":false},"axis":null},"y":{"field":"v","type":"quantitative","scale":{"domain":[-216,430],"nice":false,"zero":false},"axis":null},"text":{"field":"t"}}},
{"data":{"name":"texts"},"transform":[{"filter":"datum.role == 'segRe'"}],
"mark":{"type":"text","fontSize":26,"fontWeight":"bold","color":"#2f65ad","align":"center","baseline":"middle"},
"encoding":{"x":{"field":"x","type":"quantitative","scale":{"domain":[0,1216],"nice":false,"zero":false},"axis":null},"y":{"field":"v","type":"quantitative","scale":{"domain":[-216,430],"nice":false,"zero":false},"axis":null},"text":{"field":"t"}}},
{"data":{"name":"texts"},"transform":[{"filter":"datum.role == 'segAll'"}],
"mark":{"type":"text","fontSize":26.5,"fontWeight":"bold","color":"#00717d","align":"center","baseline":"middle"},
"encoding":{"x":{"field":"x","type":"quantitative","scale":{"domain":[0,1216],"nice":false,"zero":false},"axis":null},"y":{"field":"v","type":"quantitative","scale":{"domain":[-216,430],"nice":false,"zero":false},"axis":null},"text":{"field":"t"}}},
{"data":{"name":"texts"},"transform":[{"filter":"datum.role == 'illus'"}],
"mark":{"type":"text","fontSize":17,"color":"#333333","align":"center","baseline":"middle"},
"encoding":{"x":{"field":"x","type":"quantitative","scale":{"domain":[0,1216],"nice":false,"zero":false},"axis":null},"y":{"field":"v","type":"quantitative","scale":{"domain":[-216,430],"nice":false,"zero":false},"axis":null},"text":{"field":"t"}}},
{"data":{"name":"texts"},"transform":[{"filter":"datum.role == 'leg'"}],
"mark":{"type":"text","fontSize":20,"color":"#000000","align":"left","baseline":"middle"},
"encoding":{"x":{"field":"x","type":"quantitative","scale":{"domain":[0,1216],"nice":false,"zero":false},"axis":null},"y":{"field":"v","type":"quantitative","scale":{"domain":[-216,430],"nice":false,"zero":false},"axis":null},"text":{"field":"t"}}},
{"data":{"name":"texts"},"transform":[{"filter":"datum.role == 'top'"}],
"mark":{"type":"text","fontSize":24.5,"color":"#1a7f86","align":"center","baseline":"middle"},
"encoding":{"x":{"field":"x","type":"quantitative","scale":{"domain":[0,1216],"nice":false,"zero":false},"axis":null},"y":{"field":"v","type":"quantitative","scale":{"domain":[-216,430],"nice":false,"zero":false},"axis":null},"text":{"field":"t"}}},
{"data":{"name":"texts"},"transform":[{"filter":"datum.role == 'topsub'"}],
"mark":{"type":"text","fontSize":17.5,"color":"#1a7f86","align":"center","baseline":"middle"},
"encoding":{"x":{"field":"x","type":"quantitative","scale":{"domain":[0,1216],"nice":false,"zero":false},"axis":null},"y":{"field":"v","type":"quantitative","scale":{"domain":[-216,430],"nice":false,"zero":false},"axis":null},"text":{"field":"t"}}}
]
}
